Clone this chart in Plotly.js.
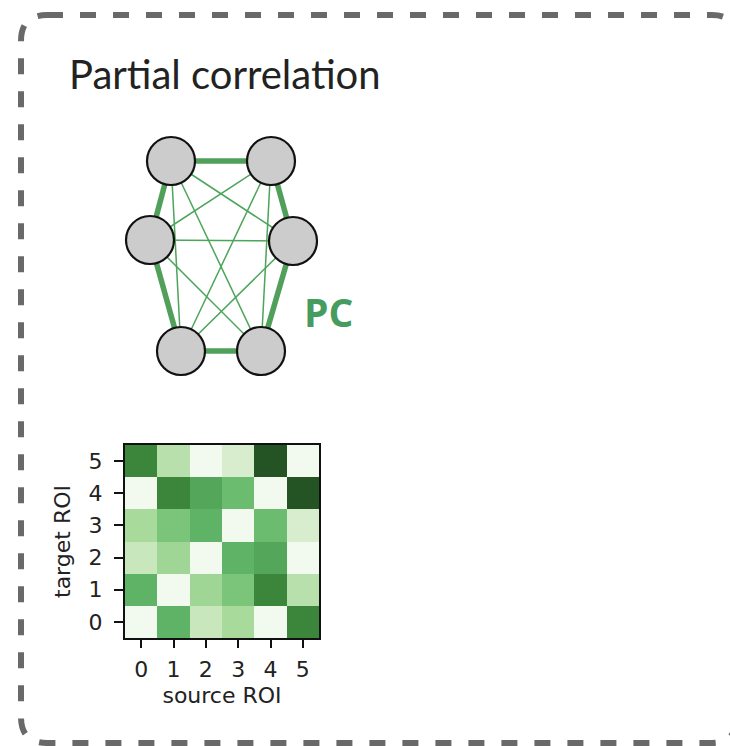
<!DOCTYPE html>
<html>
<head>
<meta charset="utf-8">
<script src="https://cdn.plot.ly/plotly-3.0.1.min.js"></script>
<style>html,body{margin:0;padding:0;background:#fff;}#chart{width:730px;height:746px;}</style>
</head>
<body>
<div id="chart"></div>
<script>
// ---- Heatmap data (partial correlation matrix, rows = target ROI 0..5) ----
var sourceROI = [0, 1, 2, 3, 4, 5];
var targetROI = [0, 1, 2, 3, 4, 5];
var row0 = [0.04, 0.60, 0.25, 0.35, 0.04, 0.80];
var row1 = [0.60, 0.04, 0.38, 0.50, 0.80, 0.30];
var row2 = [0.25, 0.38, 0.04, 0.60, 0.66, 0.04];
var row3 = [0.35, 0.50, 0.60, 0.04, 0.55, 0.20];
var row4 = [0.04, 0.80, 0.66, 0.55, 0.04, 0.96];
var row5 = [0.80, 0.30, 0.04, 0.20, 0.96, 0.04];
var tickLabels = ['0', '1', '2', '3', '4', '5'];

// ---- Network data (schematic layout of 6 ROI nodes) ----
var nodeX = [171, 271, 150, 293, 181, 261];
var nodeY = [161, 161, 240, 241, 351, 351];
var edgeFrom = [0, 0, 2, 4, 5, 3, 0, 0, 0, 1, 1, 1, 2, 2, 3];
var edgeTo   = [1, 2, 4, 5, 3, 1, 3, 4, 5, 2, 4, 5, 3, 5, 4];
var edgeStrong = [1, 1, 1, 1, 1, 1, 0, 0, 0, 0, 0, 0, 0, 0, 0];

var greens = [
  [0.0, 'rgb(248,252,246)'], [0.2, 'rgb(216,237,206)'], [0.35, 'rgb(168,218,156)'],
  [0.5, 'rgb(122,197,122)'], [0.6, 'rgb(94,179,102)'], [0.7, 'rgb(76,158,82)'],
  [0.8, 'rgb(60,134,60)'], [1.0, 'rgb(30,72,30)']
];

function edgeTrace(strong, width, color) {
  var xs = [], ys = [];
  for (var k = 0; k < edgeFrom.length; k++) {
    if (edgeStrong[k] !== strong) continue;
    xs.push(nodeX[edgeFrom[k]], nodeX[edgeTo[k]], null);
    ys.push(nodeY[edgeFrom[k]], nodeY[edgeTo[k]], null);
  }
  return {type: 'scatter', mode: 'lines', x: xs, y: ys, xaxis: 'x2', yaxis: 'y2',
          line: {color: color, width: width}, hoverinfo: 'skip', showlegend: false};
}

var traces = [
  {
    type: 'heatmap', x: sourceROI, y: targetROI,
    z: [row0, row1, row2, row3, row4, row5],
    colorscale: greens, zmin: 0, zmax: 1, showscale: false,
    xaxis: 'x', yaxis: 'y'
  },
  edgeTrace(0, 1.5, 'rgb(75,165,90)'),
  edgeTrace(1, 5.5, 'rgb(80,160,90)'),
  {
    type: 'scatter', mode: 'markers', x: nodeX, y: nodeY, xaxis: 'x2', yaxis: 'y2',
    marker: {size: 48, color: 'rgb(204,204,204)', line: {color: '#111', width: 2.2}},
    hoverinfo: 'skip', showlegend: false
  }
];

var W = 730, H = 746;
var borderPath = 'M 47,15 L 712,15 Q 736,15 736,39 L 736,719 Q 736,743 712,743 L 47,743 Q 21,743 21,717 L 21,41 Q 21,15 47,15 Z';
var tickFont = {family: 'DejaVu Sans', size: 22, color: '#222'};

var layout = {
  width: W, height: H,
  margin: {l: 0, r: 0, t: 0, b: 0},
  paper_bgcolor: '#fff', plot_bgcolor: 'rgba(0,0,0,0)',
  showlegend: false,
  xaxis: {
    domain: [125 / W, 319 / W], range: [-0.5, 5.5],
    tickmode: 'array', tickvals: sourceROI, ticktext: tickLabels,
    ticks: 'outside', ticklen: 8, tickwidth: 2, tickcolor: '#111', ticklabelstandoff: 3,
    showline: true, linecolor: '#111', linewidth: 2, mirror: true,
    showgrid: false, zeroline: false,
    tickfont: tickFont,
    title: {text: 'source ROI', font: tickFont, standoff: 6}
  },
  yaxis: {
    domain: [1 - 638 / H, 1 - 445 / H], range: [-0.5, 5.5],
    tickmode: 'array', tickvals: targetROI, ticktext: tickLabels,
    ticks: 'outside', ticklen: 9, tickwidth: 2, tickcolor: '#111', ticklabelstandoff: 7,
    showline: true, linecolor: '#111', linewidth: 2, mirror: true,
    showgrid: false, zeroline: false,
    tickfont: tickFont,
    title: {text: 'target ROI', font: tickFont, standoff: 12}
  },
  xaxis2: {domain: [0, 1], range: [0, W], visible: false, fixedrange: true},
  yaxis2: {domain: [0, 1], range: [H, 0], visible: false, fixedrange: true, anchor: 'x2'},
  shapes: [
    {type: 'path', xref: 'x2', yref: 'y2', path: borderPath,
     line: {color: 'rgb(105,105,105)', width: 6, dash: '16px,17px'}, layer: 'above'}
  ],
  annotations: [
    {xref: 'x2', yref: 'y2', x: 67, y: 74, xanchor: 'left', yanchor: 'middle', showarrow: false,
     text: 'Partial correlation', font: {family: 'Lato', size: 40, color: '#222'}},
    {xref: 'x2', yref: 'y2', x: 328, y: 311, xanchor: 'center', yanchor: 'middle', showarrow: false,
     text: '<b>PC</b>', font: {family: 'Open Sans', size: 39, color: 'rgb(70,155,95)'}}
  ]
};

Plotly.newPlot('chart', traces, layout, {staticPlot: true, displayModeBar: false});
</script>
</body>
</html>
